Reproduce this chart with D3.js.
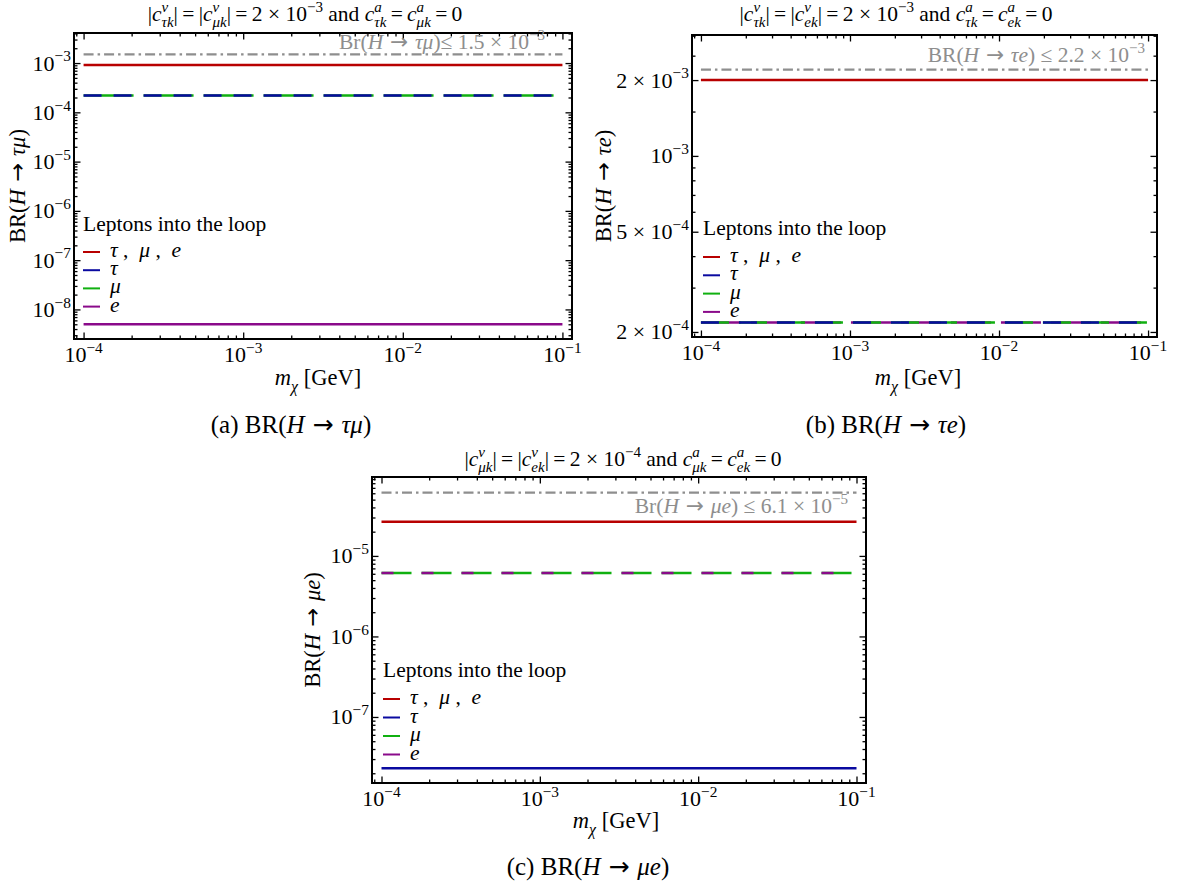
<!DOCTYPE html>
<html>
<head>
<meta charset="utf-8">
<script src="https://cdn.jsdelivr.net/npm/d3@7"></script>
<style>
  body { margin: 0; background: #fff; }
  text { font-family: "Liberation Serif", "DejaVu Serif", serif; white-space: pre; fill: #000; }
</style>
</head>
<body>
<svg id="fig" width="1183" height="885"></svg>
<script>
// m_chi sample points [GeV]
const mass = [1e-4, 1e-3, 1e-2, 1e-1];

// (a) BR(H -> tau mu)
const tauMuAll = [9.1e-4, 9.1e-4, 9.1e-4, 9.1e-4];
const tauMuTau = [2.2e-4, 2.2e-4, 2.2e-4, 2.2e-4];
const tauMuMu  = [2.2e-4, 2.2e-4, 2.2e-4, 2.2e-4];
const tauMuE   = [5.0e-9, 5.0e-9, 5.0e-9, 5.0e-9];
const tauMuLimit = 1.5e-3;

// (b) BR(H -> tau e)
const tauEAll = [2.0e-3, 2.0e-3, 2.0e-3, 2.0e-3];
const tauETau = [2.18e-4, 2.18e-4, 2.18e-4, 2.18e-4];
const tauEMu  = [2.18e-4, 2.18e-4, 2.18e-4, 2.18e-4];
const tauEE   = [2.18e-4, 2.18e-4, 2.18e-4, 2.18e-4];
const tauELimit = 2.2e-3;

// (c) BR(H -> mu e)
const muEAll = [2.65e-5, 2.65e-5, 2.65e-5, 2.65e-5];
const muETau = [2.3e-8, 2.3e-8, 2.3e-8, 2.3e-8];
const muEMu  = [6.15e-6, 6.15e-6, 6.15e-6, 6.15e-6];
const muEE   = [6.15e-6, 6.15e-6, 6.15e-6, 6.15e-6];
const muELimit = 6.1e-5;

// ticks
const xMajor = [1e-4, 1e-3, 1e-2, 1e-1];
const xLabels = ["−4", "−3", "−2", "−1"];
const yMajorA = [1e-8, 1e-7, 1e-6, 1e-5, 1e-4, 1e-3];
const yLabelsA = [["10", "−8"], ["10", "−7"], ["10", "−6"], ["10", "−5"], ["10", "−4"], ["10", "−3"]];
const yMajorB = [2e-4, 5e-4, 1e-3, 2e-3];
const yLabelsB = [["2 × 10", "−4"], ["5 × 10", "−4"], ["10", "−3"], ["2 × 10", "−3"]];
const yMinorB = [3e-4, 4e-4, 6e-4, 7e-4, 8e-4, 9e-4, 1.5e-3, 2.5e-3, 3e-3];
const yMajorC = [1e-7, 1e-6, 1e-5];
const yLabelsC = [["10", "−7"], ["10", "−6"], ["10", "−5"]];

const legendNames = [
  [{t: "τ", i: 1}, {t: " ,  "}, {t: "μ", i: 1}, {t: " ,  "}, {t: "e", i: 1}],
  [{t: "τ", i: 1}],
  [{t: "μ", i: 1}],
  [{t: "e", i: 1}]
];

const RED = "#b80000", BLUE = "#0a0aa0", GREEN = "#10b010", PURPLE = "#8a0a8a", GRAY = "#8e8e8e";
const legendColors = [RED, BLUE, GREEN, PURPLE];

// font sizes
const FS_TICK = 22, FS_TITLE = 21.5, FS_LEG = 21.5, FS_LIM = 21.5, FS_AX = 22.5, FS_CAP = 25;

const svg = d3.select("#fig");

// little TeX-ish text builder: parts = [{t, i, f, up, ui, dn, di}]
function tex(text, parts, size) {
  const sm = size * 0.7, upS = size * 0.42, dnS = size * 0.3;
  let cur = 0, pend = 0;
  parts.forEach(p => {
    const b = text.append("tspan").attr("dx", pend).attr("dy", -cur).text(p.t);
    if (p.i) b.attr("font-style", "italic");
    if (p.f) b.attr("font-family", p.f);
    cur = 0; pend = 0;
    let wu = 0;
    if (p.up) {
      const u = text.append("tspan").attr("font-size", sm).attr("dy", -upS).text(p.up);
      if (p.ui) u.attr("font-style", "italic");
      wu = u.node().getComputedTextLength();
      cur = -upS;
    }
    if (p.dn) {
      const d = text.append("tspan").attr("font-size", sm).attr("dx", -wu).attr("dy", dnS - cur).text(p.dn);
      if (p.di) d.attr("font-style", "italic");
      const wd = d.node().getComputedTextLength();
      cur = dnS;
      if (wu > wd) pend = wu - wd;
    }
  });
  return text;
}

function label(g, x, y, parts, size, anchor) {
  const t = g.append("text").attr("x", x).attr("y", y)
    .attr("font-size", size).attr("text-anchor", anchor || "start");
  return tex(t, parts, size);
}

function minorLog(dom) {
  const out = [];
  const lo = Math.floor(Math.log10(dom[0])), hi = Math.ceil(Math.log10(dom[1]));
  for (let k = lo; k <= hi; k++)
    for (let m = 2; m <= 9; m++) {
      const v = m * Math.pow(10, k);
      if (v >= dom[0] && v <= dom[1]) out.push(v);
    }
  return out;
}

const EQ = "\u2009=\u2009";
const ARROW = {t: " → ", f: "DejaVu Sans"};
const BR = (proc) => [{t: "BR("}, {t: "H", i: 1}, ARROW, {t: proc, i: 1}, {t: ")"}];
const cc = (u, d) => ({t: "c", i: 1, up: u, ui: 1, dn: d, di: 1});

const xDom = [Math.pow(10, -4.06), Math.pow(10, -0.94)];

const panels = [
  {
    box: {l: 74, r: 572, t: 33, b: 339},
    yDom: [Math.pow(10, -8.6), Math.pow(10, -2.39)],
    yMajor: yMajorA, yLabels: yLabelsA, yMinor: null,
    series: [
      {v: tauMuAll, c: RED},
      {v: tauMuE, c: PURPLE},
      {v: tauMuMu, c: GREEN, dash: "50,10"},
      {v: tauMuTau, c: BLUE, dash: "18,12"}
    ],
    limit: tauMuLimit,
    limitText: [{t: "Br("}, {t: "H", i: 1}, ARROW, {t: "τμ", i: 1}, {t: ")≤ 1.5 × 10", up: "−3"}],
    limitX: 545, limitY: 49,
    title: [{t: "|"}, cc("v", "τk"), {t: "|" + EQ + "|"}, cc("v", "μk"), {t: "|" + EQ + "2 × 10", up: "−3"},
            {t: " and "}, cc("a", "τk"), {t: EQ}, cc("a", "μk"), {t: EQ + "0"}],
    titleX: 305, titleY: 21,
    yTitle: BR("τμ"), yTitleX: 25,
    xTitleX: 318, xTitleY: 385,
    caption: [{t: "(a) "}].concat(BR("τμ")), capX: 291, capY: 433,
    legend: {x: 83, titleY: 231, rowY: 252, dy: 18.2}
  },
  {
    box: {l: 692, r: 1157, t: 35, b: 337},
    yDom: [1.91e-4, 3.02e-3],
    yMajor: yMajorB, yLabels: yLabelsB, yMinor: yMinorB,
    series: [
      {v: tauEAll, c: RED},
      {v: tauEE, c: PURPLE, dash: "40,10"},
      {v: tauEMu, c: GREEN, dash: "28,10"},
      {v: tauETau, c: BLUE, dash: "18,20"}
    ],
    limit: tauELimit,
    limitText: [{t: "BR("}, {t: "H", i: 1}, ARROW, {t: "τe", i: 1}, {t: ") ≤ 2.2 × 10", up: "−3"}],
    limitX: 1145, limitY: 62,
    title: [{t: "|"}, cc("v", "τk"), {t: "|" + EQ + "|"}, cc("v", "ek"), {t: "|" + EQ + "2 × 10", up: "−3"},
            {t: " and "}, cc("a", "τk"), {t: EQ}, cc("a", "ek"), {t: EQ + "0"}],
    titleX: 896, titleY: 21,
    yTitle: BR("τe"), yTitleX: 611,
    xTitleX: 918, xTitleY: 385,
    caption: [{t: "(b) "}].concat(BR("τe")), capX: 886, capY: 433,
    legend: {x: 703, titleY: 235, rowY: 257, dy: 18.3}
  },
  {
    box: {l: 372, r: 866, t: 477, b: 783},
    yDom: [Math.pow(10, -7.82), Math.pow(10, -4.02)],
    yMajor: yMajorC, yLabels: yLabelsC, yMinor: null,
    series: [
      {v: muEAll, c: RED},
      {v: muETau, c: BLUE},
      {v: muEMu, c: GREEN, dash: "30,10"},
      {v: muEE, c: PURPLE, dash: "12,28"}
    ],
    limit: muELimit,
    limitText: [{t: "Br("}, {t: "H", i: 1}, ARROW, {t: "μe", i: 1}, {t: ") ≤ 6.1 × 10", up: "−5"}],
    limitX: 848, limitY: 513,
    title: [{t: "|"}, cc("v", "μk"), {t: "|" + EQ + "|"}, cc("v", "ek"), {t: "|" + EQ + "2 × 10", up: "−4"},
            {t: " and "}, cc("a", "μk"), {t: EQ}, cc("a", "ek"), {t: EQ + "0"}],
    titleX: 623, titleY: 466,
    yTitle: BR("μe"), yTitleX: 320,
    xTitleX: 616, xTitleY: 828,
    caption: [{t: "(c) "}].concat(BR("μe")), capX: 588, capY: 875,
    legend: {x: 383, titleY: 677, rowY: 699, dy: 18.5}
  }
];

panels.forEach(P => {
  const g = svg.append("g");
  const B = P.box;
  const x = d3.scaleLog().domain(xDom).range([B.l, B.r]);
  const y = d3.scaleLog().domain(P.yDom).range([B.b, B.t]);
  const xMinor = minorLog(xDom);
  const yMinor = P.yMinor || minorLog(P.yDom);

  // ticks, inward on all four sides
  const tickSet = (axisFn, scale, vals, len, tr) => {
    g.append("g").attr("transform", tr)
      .call(axisFn(scale).tickValues(vals).tickSize(-len).tickFormat(""))
      .call(s => s.select(".domain").remove())
      .call(s => s.selectAll("line").attr("stroke", "#000").attr("stroke-width", 1.3));
  };
  tickSet(d3.axisBottom, x, xMajor, 6.5, `translate(0,${B.b})`);
  tickSet(d3.axisBottom, x, xMinor, 3.5, `translate(0,${B.b})`);
  tickSet(d3.axisTop, x, xMajor, 6.5, `translate(0,${B.t})`);
  tickSet(d3.axisTop, x, xMinor, 3.5, `translate(0,${B.t})`);
  tickSet(d3.axisLeft, y, P.yMajor, 6.5, `translate(${B.l},0)`);
  tickSet(d3.axisLeft, y, yMinor, 3.5, `translate(${B.l},0)`);
  tickSet(d3.axisRight, y, P.yMajor, 6.5, `translate(${B.r},0)`);
  tickSet(d3.axisRight, y, yMinor, 3.5, `translate(${B.r},0)`);

  // frame
  g.append("rect").attr("x", B.l).attr("y", B.t)
    .attr("width", B.r - B.l).attr("height", B.b - B.t)
    .attr("fill", "none").attr("stroke", "#000").attr("stroke-width", 2);

  // limit line
  const line = d3.line().x(d => x(d[0])).y(d => y(d[1]));
  g.append("path")
    .attr("d", line([[xMajor[0], P.limit], [xMajor[3], P.limit]]))
    .attr("fill", "none").attr("stroke", GRAY).attr("stroke-width", 2.2)
    .attr("stroke-dasharray", "10,4,2.5,4");

  // curves
  P.series.forEach(s => {
    g.append("path")
      .attr("d", line(d3.zip(mass, s.v)))
      .attr("fill", "none").attr("stroke", s.c).attr("stroke-width", 2.5)
      .attr("stroke-dasharray", s.dash || null);
  });

  // limit text
  label(g, P.limitX, P.limitY, P.limitText, FS_LIM, "end").attr("fill", GRAY)
    .selectAll("tspan").attr("fill", GRAY);

  // tick labels
  xMajor.forEach((v, k) => label(g, x(v), B.b + 23, [{t: "10", up: xLabels[k]}], FS_TICK, "middle"));
  P.yMajor.forEach((v, k) => label(g, B.l - 3, y(v) + 7.5, [{t: P.yLabels[k][0], up: P.yLabels[k][1]}], FS_TICK, "end"));

  // titles
  label(g, P.titleX, P.titleY, P.title, FS_TITLE, "middle");
  label(g, P.xTitleX, P.xTitleY, [{t: "m", i: 1, dn: "χ", di: 1}, {t: " [GeV]"}], FS_AX, "middle");
  const cy = (B.t + B.b) / 2;
  tex(g.append("text").attr("font-size", FS_AX).attr("text-anchor", "middle")
      .attr("transform", `translate(${P.yTitleX},${cy}) rotate(-90)`), P.yTitle, FS_AX);
  label(g, P.capX, P.capY, P.caption, FS_CAP, "middle");

  // legend
  const L = P.legend;
  label(g, L.x, L.titleY, [{t: "Leptons into the loop"}], FS_LEG, "start");
  legendNames.forEach((nm, k) => {
    const yy = L.rowY + k * L.dy;
    g.append("line").attr("x1", L.x).attr("x2", L.x + 17).attr("y1", yy).attr("y2", yy)
      .attr("stroke", legendColors[k]).attr("stroke-width", 2);
    label(g, L.x + 27, yy + 5, nm, FS_LEG, "start");
  });
});
</script>
</body>
</html>
